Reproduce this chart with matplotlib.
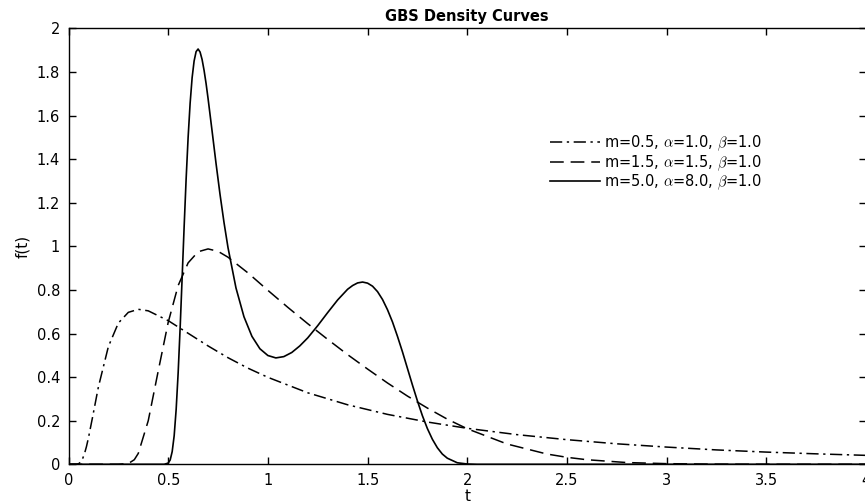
"""
GBS density curves, redrawn from a reference picture
"""
import matplotlib
matplotlib.use("Agg")
from matplotlib import pyplot
from matplotlib.ticker import MultipleLocator, FormatStrFormatter

pyplot.rcParams["font.family"] = ["DejaVu Sans"]
pyplot.rcParams["mathtext.fontset"] = "cm"

# values (t, f(t))
t_a = [0.0, 0.04, 0.05, 0.06, 0.07, 0.08, 0.09, 0.1, 0.12, 0.15, 0.2, 0.25,
       0.3, 0.35, 0.4, 0.5, 0.6, 0.7, 0.8, 0.9, 1.0, 1.2, 1.4, 1.6, 1.8,
       2.0, 2.25, 2.5, 2.75, 3.0, 3.25, 3.5, 3.75, 4.0]
f_a = [0.0, 0.0003, 0.0023, 0.0091, 0.024, 0.048, 0.081, 0.121, 0.213,
       0.355, 0.540, 0.648, 0.697, 0.711, 0.704, 0.659, 0.601, 0.543, 0.489,
       0.441, 0.399, 0.328, 0.273, 0.229, 0.194, 0.165, 0.136, 0.113, 0.094,
       0.079, 0.066, 0.056, 0.048, 0.041]

t_b = [0.0, 0.25, 0.3, 0.33, 0.35, 0.4, 0.45, 0.5, 0.55, 0.6, 0.65, 0.7,
       0.75, 0.8, 0.9, 1.0, 1.1, 1.2, 1.3, 1.4, 1.5, 1.6, 1.7, 1.8, 1.9,
       2.0, 2.2, 2.4, 2.5, 2.6, 2.8, 3.0, 3.2, 3.4, 3.6, 4.0]
f_b = [0.0, 0.0, 0.0034, 0.021, 0.050, 0.200, 0.428, 0.651, 0.820, 0.924,
       0.975, 0.988, 0.977, 0.950, 0.878, 0.798, 0.720, 0.645, 0.573, 0.503,
       0.437, 0.373, 0.313, 0.258, 0.207, 0.163, 0.093, 0.047, 0.032, 0.021,
       0.008, 0.003, 0.0008, 0.0002, 0.0, 0.0]

t_c = [0.0, 0.48, 0.5, 0.51, 0.52, 0.53, 0.54, 0.55, 0.56, 0.57, 0.58, 0.59,
       0.6, 0.61, 0.62, 0.63, 0.64, 0.65, 0.66, 0.67, 0.68, 0.69, 0.7, 0.72,
       0.74, 0.76, 0.78, 0.8, 0.84, 0.88, 0.92, 0.96, 1.0, 1.04, 1.08, 1.12,
       1.16, 1.2, 1.25, 1.3, 1.35, 1.4, 1.425, 1.45, 1.475, 1.5, 1.525, 1.55,
       1.575, 1.6, 1.625, 1.65, 1.675, 1.7, 1.725, 1.75, 1.775, 1.8, 1.825,
       1.85, 1.875, 1.9, 1.95, 2.0, 2.05, 4.0]
f_c = [0.0, 0.0001, 0.0055, 0.020, 0.058, 0.131, 0.252, 0.420, 0.627,
       0.857, 1.090, 1.309, 1.500, 1.656, 1.773, 1.850, 1.893, 1.905, 1.891,
       1.857, 1.807, 1.747, 1.678, 1.530, 1.380, 1.238, 1.109, 0.994, 0.809,
       0.677, 0.587, 0.530, 0.499, 0.488, 0.494, 0.513, 0.543, 0.580, 0.636,
       0.696, 0.754, 0.803, 0.820, 0.832, 0.836, 0.831, 0.817, 0.792, 0.756,
       0.709, 0.653, 0.587, 0.516, 0.440, 0.364, 0.291, 0.223, 0.164, 0.115,
       0.076, 0.047, 0.028, 0.007, 0.0014, 0.0, 0.0]

labels = [r"m=0.5, $\alpha$=1.0, $\beta$=1.0",
          r"m=1.5, $\alpha$=1.5, $\beta$=1.0",
          r"m=5.0, $\alpha$=8.0, $\beta$=1.0"]

fig = pyplot.figure(figsize=(8.65, 5.04), dpi=100)
ax = fig.add_axes([68.5 / 865, 1 - 464.3 / 504, 797.5 / 865, 436 / 504])

ax.plot(t_a, f_a, color="black", lw=1.1, linestyle=(0, (8, 3, 1.5, 3)), label=labels[0])
ax.plot(t_b, f_b, color="black", lw=1.1, linestyle=(0, (9, 4.5)), label=labels[1])
ax.plot(t_c, f_c, color="black", lw=1.2, linestyle="-", label=labels[2])

ax.set_xlim(0, 4)
ax.set_ylim(0, 2)
ax.xaxis.set_major_locator(MultipleLocator(0.5))
ax.yaxis.set_major_locator(MultipleLocator(0.2))
ax.xaxis.set_major_formatter(FormatStrFormatter("%g"))
ax.yaxis.set_major_formatter(FormatStrFormatter("%g"))
ax.tick_params(direction="in", length=5, width=1, top=True, right=True,
               labelsize=10.5, pad=6)
for spine in ax.spines.values():
    spine.set_linewidth(1)

ax.set_title("GBS Density Curves", fontsize=10.5, fontweight="bold", pad=5)
ax.set_xlabel("t", fontsize=11, labelpad=1)
ax.set_ylabel("f(t)", fontsize=11, labelpad=5)

ax.legend(loc="upper left", bbox_to_anchor=(0.604, 0.758), frameon=False,
          fontsize=10.5, handlelength=3.4, handletextpad=0.3, borderpad=0,
          borderaxespad=0, labelspacing=0.0)

fig.savefig("out.png", dpi=100)
pyplot.close(fig)
